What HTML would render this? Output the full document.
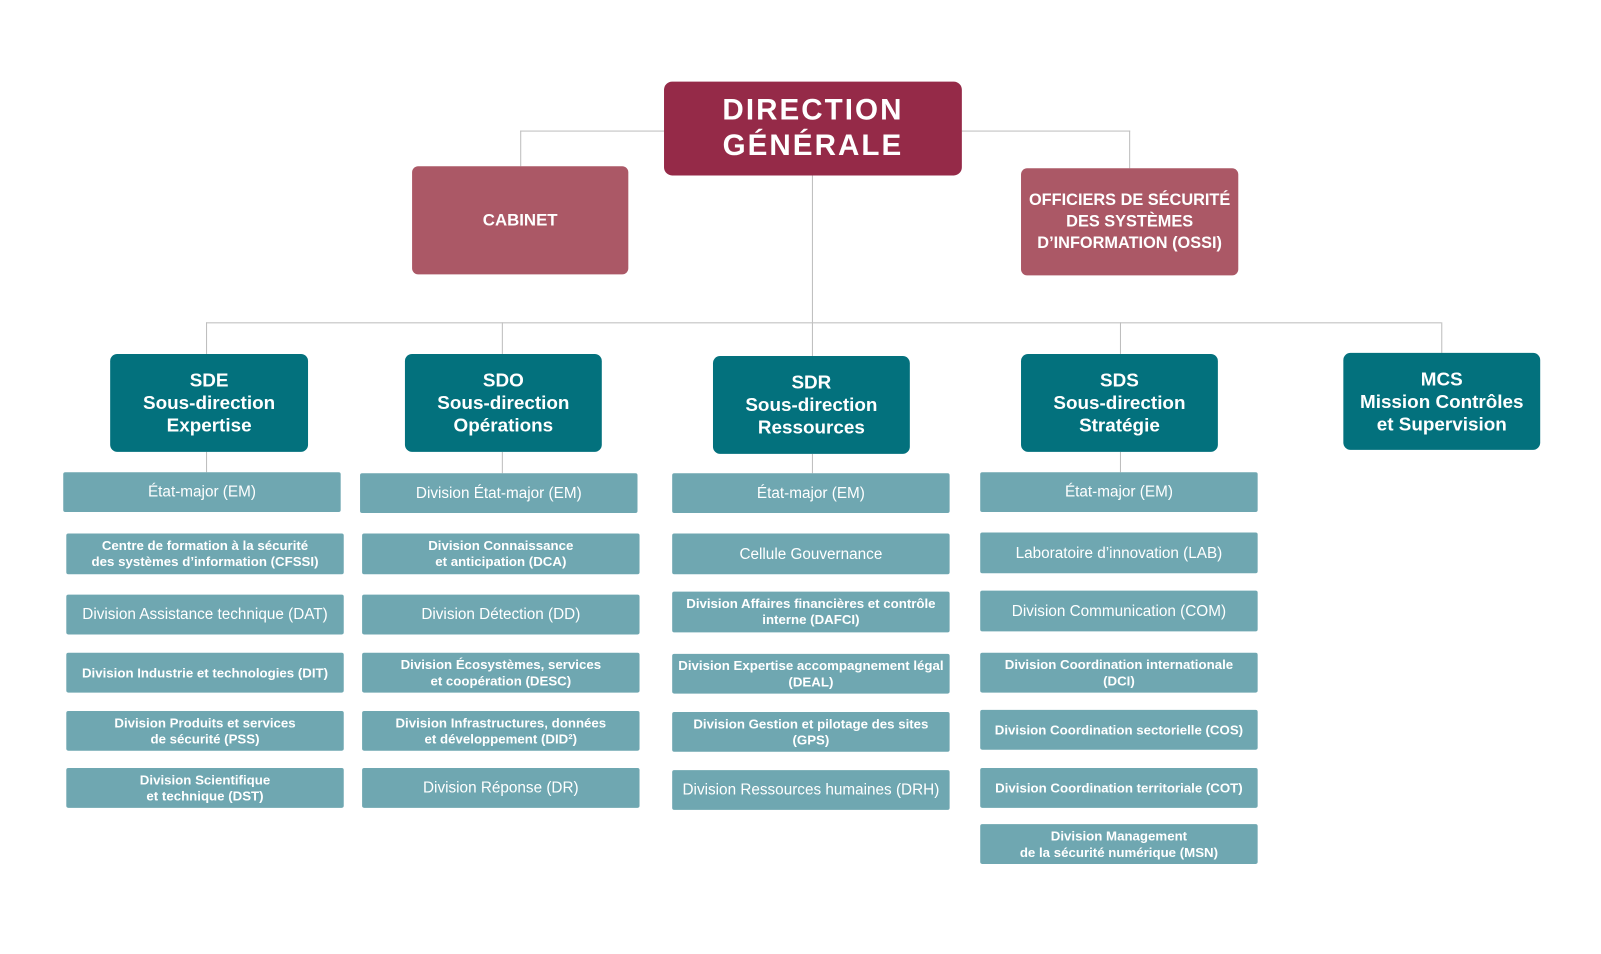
<!DOCTYPE html>
<html><head><meta charset="utf-8"><style>
html,body{margin:0;padding:0;background:#fff;width:1601px;height:952px;overflow:hidden}
#w{position:absolute;left:0;top:0;width:1570px;height:935px;transform:scale(1.02);transform-origin:0 0;font-family:"Liberation Sans",sans-serif}
.b{position:absolute;display:flex;align-items:center;justify-content:center;text-align:center;color:#fff;box-sizing:border-box;border-radius:6px}
.dg{background:#952A48;font-weight:bold;font-size:29px;letter-spacing:2px;line-height:35px;border-radius:8px}
.cab{background:#AB5866;font-weight:bold;font-size:16.5px;line-height:21px}
.sd{background:#03717D;font-weight:bold;font-size:18.5px;line-height:22px;border-radius:7px}
.it{background:#6FA7B1;border-radius:2px;font-size:15px;line-height:17px}
.it.s{font-size:13px;line-height:16px;font-weight:bold}
.l{position:absolute;background:#bdbdbd}
</style></head><body><div id="w">
<!-- lines -->
<div class="l" style="left:510px;top:128px;width:141px;height:1px"></div>
<div class="l" style="left:510px;top:128px;width:1px;height:35px"></div>
<div class="l" style="left:943px;top:128px;width:165px;height:1px"></div>
<div class="l" style="left:1107px;top:128px;width:1px;height:37px"></div>
<div class="l" style="left:796px;top:172px;width:1px;height:144px"></div>
<div class="l" style="left:202px;top:316px;width:1211px;height:1px"></div>
<div class="l" style="left:202px;top:316px;width:1px;height:31px"></div>
<div class="l" style="left:492px;top:316px;width:1px;height:31px"></div>
<div class="l" style="left:796px;top:316px;width:1px;height:33px"></div>
<div class="l" style="left:1098px;top:316px;width:1px;height:31px"></div>
<div class="l" style="left:1413px;top:316px;width:1px;height:30px"></div>
<div class="l" style="left:202px;top:443px;width:1px;height:20px"></div>
<div class="l" style="left:492px;top:443px;width:1px;height:21px"></div>
<div class="l" style="left:796px;top:445px;width:1px;height:19px"></div>
<div class="l" style="left:1098px;top:443px;width:1px;height:20px"></div>

<div class="b dg" style="left:651px;top:80px;width:292px;height:92px">DIRECTION<br>GÉNÉRALE</div>
<div class="b cab" style="left:404px;top:163px;width:212px;height:106px">CABINET</div>
<div class="b cab" style="left:1001px;top:165px;width:213px;height:105px;font-size:16px">OFFICIERS DE SÉCURITÉ<br>DES SYSTÈMES<br>D’INFORMATION (OSSI)</div>

<div class="b sd" style="left:108px;top:347px;width:194px;height:96px">SDE<br>Sous-direction<br>Expertise</div>
<div class="b sd" style="left:397px;top:347px;width:193px;height:96px">SDO<br>Sous-direction<br>Opérations</div>
<div class="b sd" style="left:699px;top:349px;width:193px;height:96px">SDR<br>Sous-direction<br>Ressources</div>
<div class="b sd" style="left:1001px;top:347px;width:193px;height:96px">SDS<br>Sous-direction<br>Stratégie</div>
<div class="b sd" style="left:1317px;top:346px;width:193px;height:95px">MCS<br>Mission Contrôles<br>et Supervision</div>

<div class="b it" style="left:62px;top:463px;width:272px;height:39px">État-major (EM)</div>
<div class="b it s" style="left:65px;top:523px;width:272px;height:40px">Centre de formation à la sécurité<br>des systèmes d’information (CFSSI)</div>
<div class="b it" style="left:65px;top:583px;width:272px;height:39px">Division Assistance technique (DAT)</div>
<div class="b it s" style="left:65px;top:640px;width:272px;height:39px">Division Industrie et technologies (DIT)</div>
<div class="b it s" style="left:65px;top:697px;width:272px;height:39px">Division Produits et services<br>de sécurité (PSS)</div>
<div class="b it s" style="left:65px;top:753px;width:272px;height:39px">Division Scientifique<br>et technique (DST)</div>

<div class="b it" style="left:353px;top:464px;width:272px;height:39px">Division État-major (EM)</div>
<div class="b it s" style="left:355px;top:523px;width:272px;height:40px">Division Connaissance<br>et anticipation (DCA)</div>
<div class="b it" style="left:355px;top:583px;width:272px;height:39px">Division Détection (DD)</div>
<div class="b it s" style="left:355px;top:640px;width:272px;height:39px">Division Écosystèmes, services<br>et coopération (DESC)</div>
<div class="b it s" style="left:355px;top:697px;width:272px;height:39px">Division Infrastructures, données<br>et développement (DID²)</div>
<div class="b it" style="left:355px;top:753px;width:272px;height:39px">Division Réponse (DR)</div>

<div class="b it" style="left:659px;top:464px;width:272px;height:39px">État-major (EM)</div>
<div class="b it" style="left:659px;top:523px;width:272px;height:40px">Cellule Gouvernance</div>
<div class="b it s" style="left:659px;top:580px;width:272px;height:40px">Division Affaires financières et contrôle<br>interne (DAFCI)</div>
<div class="b it s" style="left:659px;top:641px;width:272px;height:39px">Division Expertise accompagnement légal<br>(DEAL)</div>
<div class="b it s" style="left:659px;top:698px;width:272px;height:39px">Division Gestion et pilotage des sites<br>(GPS)</div>
<div class="b it" style="left:659px;top:755px;width:272px;height:39px">Division Ressources humaines (DRH)</div>

<div class="b it" style="left:961px;top:463px;width:272px;height:39px">État-major (EM)</div>
<div class="b it" style="left:961px;top:522px;width:272px;height:40px">Laboratoire d’innovation (LAB)</div>
<div class="b it" style="left:961px;top:579px;width:272px;height:40px">Division Communication (COM)</div>
<div class="b it s" style="left:961px;top:640px;width:272px;height:39px">Division Coordination internationale<br>(DCI)</div>
<div class="b it s" style="left:961px;top:696px;width:272px;height:39px">Division Coordination sectorielle (COS)</div>
<div class="b it s" style="left:961px;top:753px;width:272px;height:39px">Division Coordination territoriale (COT)</div>
<div class="b it s" style="left:961px;top:808px;width:272px;height:39px">Division Management<br>de la sécurité numérique (MSN)</div>
</div></body></html>
